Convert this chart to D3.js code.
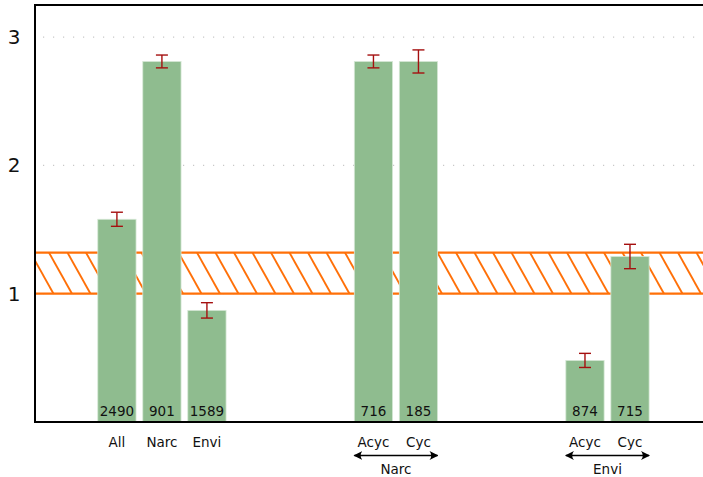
<!DOCTYPE html>
<html>
<head>
<meta charset="utf-8">
<script src="https://cdn.jsdelivr.net/npm/d3@7"></script>
<style>
  html, body { margin: 0; padding: 0; background: #fff; }
  svg { display: block; font-family: "DejaVu Sans", sans-serif; }
</style>
</head>
<body>
<svg id="chart" width="703" height="477"></svg>
<script>
// Ratio per subset, with standard errors and sample counts
const labels    = ["All", "Narc", "Envi", "Acyc", "Cyc", "Acyc", "Cyc"];
const positions = [0, 1, 2, 5.7, 6.7, 10.4, 11.4];
const values    = [1.58, 2.81, 0.87, 2.81, 2.81, 0.48, 1.29];
const errors    = [0.055, 0.05, 0.06, 0.05, 0.09, 0.055, 0.095];
const counts    = [2490, 901, 1589, 716, 185, 874, 715];
const groups    = [
  { name: "Narc", from: 5.7, to: 6.7 },
  { name: "Envi", from: 10.4, to: 11.4 }
];
const yTicks    = [1, 2, 3];
const band      = [1.0, 1.32];

const svg = d3.select("#chart");
const mLeft = 35, mRight = 720, mTop = 5, mBottom = 422;

const x = d3.scaleLinear().domain([-1.82, 13.4]).range([mLeft, mRight]);
const y = d3.scaleLinear().domain([0, 3.25]).range([mBottom, mTop]);
const barW = x(0.85) - x(0);

const defs = svg.append("defs");
defs.append("clipPath").attr("id", "plotclip")
  .append("rect").attr("x", mLeft).attr("y", mTop).attr("width", 703 - mLeft).attr("height", mBottom - mTop);

const plot = svg.append("g").attr("clip-path", "url(#plotclip)");

// Dotted grid
plot.selectAll(".grid").data(yTicks).join("line")
  .attr("x1", mLeft + 8).attr("x2", 703)
  .attr("y1", d => y(d)).attr("y2", d => y(d))
  .attr("stroke", "#c8c8c8").attr("stroke-width", 1.2)
  .attr("stroke-dasharray", "1.2 8.8");

// Reference band: diagonal hatching between two solid edges
const bandTop = y(band[1]), bandBot = y(band[0]);
const hatchShift = (bandBot - bandTop) * 0.56;
const hatchStarts = d3.range(mLeft - 60, 720, 18.5);
const bandClip = defs.append("clipPath").attr("id", "bandclip");
bandClip.append("rect").attr("x", mLeft).attr("y", bandTop)
  .attr("width", 703 - mLeft).attr("height", bandBot - bandTop);
plot.append("g").attr("clip-path", "url(#bandclip)")
  .selectAll("line").data(hatchStarts).join("line")
  .attr("x1", d => d).attr("y1", bandTop)
  .attr("x2", d => d + hatchShift).attr("y2", bandBot)
  .attr("stroke", "#ff7008").attr("stroke-width", 1.9);
plot.selectAll(".bandline").data(band).join("line")
  .attr("x1", mLeft).attr("x2", 703)
  .attr("y1", d => y(d)).attr("y2", d => y(d))
  .attr("stroke", "#ff7008").attr("stroke-width", 2.2);

// Bars
plot.selectAll(".bar").data(values).join("rect")
  .attr("x", (d, i) => x(positions[i]) - barW / 2)
  .attr("width", barW)
  .attr("y", d => y(d))
  .attr("height", d => y(0) - y(d))
  .attr("fill", "#8fbc8f")
  .attr("stroke", "#d6e8d6").attr("stroke-width", 0.8);

// Error bars
const eb = plot.selectAll(".err").data(values).join("g")
  .attr("stroke", "#a50f0f").attr("stroke-width", 1.4);
eb.append("line")
  .attr("x1", (d, i) => x(positions[i])).attr("x2", (d, i) => x(positions[i]))
  .attr("y1", (d, i) => y(d + errors[i])).attr("y2", (d, i) => y(d - errors[i]));
eb.append("line")
  .attr("x1", (d, i) => x(positions[i]) - 6).attr("x2", (d, i) => x(positions[i]) + 6)
  .attr("y1", (d, i) => y(d + errors[i])).attr("y2", (d, i) => y(d + errors[i]));
eb.append("line")
  .attr("x1", (d, i) => x(positions[i]) - 6).attr("x2", (d, i) => x(positions[i]) + 6)
  .attr("y1", (d, i) => y(d - errors[i])).attr("y2", (d, i) => y(d - errors[i]));

// Counts inside bars
svg.selectAll(".count").data(counts).join("text")
  .attr("x", (d, i) => x(positions[i]))
  .attr("y", y(0) - 6)
  .attr("text-anchor", "middle")
  .attr("font-size", 13.5).attr("fill", "#111")
  .text(d => d);

// Axes frame
svg.append("line").attr("x1", mLeft).attr("x2", mLeft).attr("y1", mTop).attr("y2", mBottom)
  .attr("stroke", "#000").attr("stroke-width", 2);
svg.append("line").attr("x1", mLeft - 1).attr("x2", 703).attr("y1", mTop).attr("y2", mTop)
  .attr("stroke", "#000").attr("stroke-width", 2);
svg.append("line").attr("x1", mLeft - 1).attr("x2", 703).attr("y1", mBottom).attr("y2", mBottom)
  .attr("stroke", "#000").attr("stroke-width", 2);

// Y tick labels
svg.selectAll(".ytick").data(yTicks).join("text")
  .attr("x", 14).attr("y", d => y(d) + 7)
  .attr("text-anchor", "middle")
  .attr("font-size", 20).attr("fill", "#111")
  .text(d => d);

// Category labels
svg.selectAll(".cat").data(labels).join("text")
  .attr("x", (d, i) => x(positions[i]))
  .attr("y", 447)
  .attr("text-anchor", "middle")
  .attr("font-size", 13.5).attr("fill", "#111")
  .text(d => d);

// Group arrows
defs.append("marker").attr("id", "arrowhead")
  .attr("viewBox", "0 0 10 10").attr("refX", 9).attr("refY", 5)
  .attr("markerWidth", 9).attr("markerHeight", 9)
  .attr("markerUnits", "userSpaceOnUse")
  .attr("orient", "auto-start-reverse")
  .append("path").attr("d", "M0,0 Q4,5 0,10 L10,5 Z").attr("fill", "#000");

const gg = svg.selectAll(".group").data(groups).join("g");
gg.append("line")
  .attr("x1", d => x(d.from) - barW / 2).attr("x2", d => x(d.to) + barW / 2)
  .attr("y1", 455.5).attr("y2", 455.5)
  .attr("stroke", "#000").attr("stroke-width", 1.3)
  .attr("marker-start", "url(#arrowhead)").attr("marker-end", "url(#arrowhead)");
gg.append("text")
  .attr("x", d => (x(d.from) + x(d.to)) / 2)
  .attr("y", 474)
  .attr("text-anchor", "middle")
  .attr("font-size", 13.5).attr("fill", "#111")
  .text(d => d.name);
</script>
</body>
</html>
